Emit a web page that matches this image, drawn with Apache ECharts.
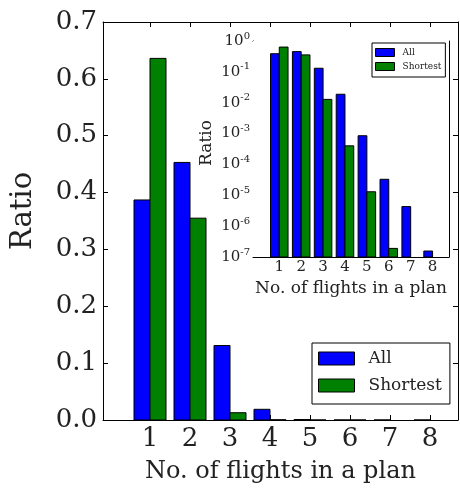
<!DOCTYPE html>
<html><head><meta charset="utf-8">
<script src="https://cdn.jsdelivr.net/npm/echarts@6/dist/echarts.min.js"></script>
<style>html,body{margin:0;padding:0;background:#fff}#c{width:460px;height:489px}</style>
</head><body><div id="c"></div>
<script>
var categories = [1, 2, 3, 4, 5, 6, 7, 8];
var allRatio = [0.387, 0.453, 0.131, 0.0188, 8.5e-4, 3.3e-5, 4.3e-6, 1.56e-7];
var shortestRatio = [0.636, 0.355, 0.0128, 4.0e-4, 1.3e-5, 1.9e-7, 0, 0];
var mainYTicks = [0, 0.1, 0.2, 0.3, 0.4, 0.5, 0.6, 0.7];
var insetYTicks = [1e-7, 1e-6, 1e-5, 1e-4, 1e-3, 1e-2, 1e-1, 1];
var insetMinorTicks = [];
for (var e = -7; e < 0; e++) { for (var m = 2; m <= 9; m++) insetMinorTicks.push(m * Math.pow(10, e)); }

var FONT = 'DejaVu Serif';
var TXT = '#222';
var BLUE = '#0000ff', GREEN = '#008000';
var BAR_W = 0.4;

function pairs(vals) { return categories.map(function (c, i) { return [c, vals[i]]; }); }

function barRenderer(side, base, color) {
  return function (params, api) {
    var x = api.value(0), v = api.value(1);
    if (!(v > 0)) return null;
    var x0 = side < 0 ? x - BAR_W : x;
    var x1 = side < 0 ? x : x + BAR_W;
    var pTop = api.coord([x0, v]);
    var pBot = api.coord([x1, base]);
    return {
      type: 'rect',
      shape: { x: pTop[0], y: pTop[1], width: pBot[0] - pTop[0], height: pBot[1] - pTop[1] },
      style: { fill: color, stroke: '#000', lineWidth: 1 }
    };
  };
}

var line = { show: true, onZero: false, lineStyle: { color: '#000', width: 1 } };
function xAx(grid, pos, min, max, labels, lfs, tickLen, name, nfs, ngap) {
  return {
    type: 'value', gridIndex: grid, position: pos, min: min, max: max,
    axisLine: line, splitLine: { show: false },
    axisTick: { show: true, inside: true, length: tickLen, customValues: categories, lineStyle: { color: '#000' } },
    axisLabel: { show: labels, customValues: categories, fontFamily: FONT, fontSize: lfs, color: TXT, margin: grid === 0 ? 6 : 3 },
    name: name || '', nameLocation: 'middle', nameGap: ngap || 0,
    nameTextStyle: { fontFamily: FONT, fontSize: nfs || 12, color: TXT }
  };
}

var option = {
  animation: false,
  backgroundColor: '#fff',
  grid: [
    { left: 103, top: 22, right: 2, bottom: 69, containLabel: false, outerBoundsMode: 'none' },
    { left: 253, top: 41, right: 11, bottom: 232, containLabel: false, outerBoundsMode: 'none',
      show: true, backgroundColor: '#fff', borderWidth: 0, z: 3 }
  ],
  xAxis: [
    xAx(0, 'bottom', -0.175, 8.7, true, 26, 5, 'No. of flights in a plan', 24, 40),
    xAx(0, 'top', -0.175, 8.7, false, 26, 5),
    xAx(1, 'bottom', -0.2, 8.75, true, 15, 3, 'No. of flights in a plan', 17, 23),
    xAx(1, 'top', -0.2, 8.75, false, 15, 3)
  ],
  yAxis: [
    { type: 'value', gridIndex: 0, position: 'left', min: 0, max: 0.7, interval: 0.1,
      axisLine: line, splitLine: { show: false },
      axisTick: { inside: true, length: 5, lineStyle: { color: '#000' } },
      axisLabel: { fontFamily: FONT, fontSize: 26, color: TXT, margin: 6, formatter: function (v) { return v.toFixed(1); } },
      name: 'Ratio', nameLocation: 'middle', nameGap: 65,
      nameTextStyle: { fontFamily: FONT, fontSize: 29, color: TXT, padding: [0, 0, 0, 20] } },
    { type: 'value', gridIndex: 0, position: 'right', min: 0, max: 0.7, interval: 0.1,
      axisLine: line, splitLine: { show: false },
      axisTick: { inside: true, length: 5, lineStyle: { color: '#000' } }, axisLabel: { show: false } },
    { type: 'log', logBase: 10, gridIndex: 1, position: 'left', min: 1e-7, max: 1,
      axisLine: line, splitLine: { show: false },
      axisTick: { inside: true, length: 4, customValues: insetYTicks, lineStyle: { color: '#000' } },
      axisLabel: { customValues: insetYTicks, margin: 3,
        formatter: function (v) { return '{b|10}{s|' + Math.round(Math.log10(v)) + '}'; },
        rich: { b: { fontFamily: FONT, fontSize: 15, color: TXT, lineHeight: 20 },
                s: { fontFamily: FONT, fontSize: 10, color: TXT, lineHeight: 10, verticalAlign: 'top' } } },
      name: 'Ratio', nameLocation: 'middle', nameGap: 38,
      nameTextStyle: { fontFamily: FONT, fontSize: 17, color: TXT, padding: [0, 0, 0, 12] } },
    { type: 'log', logBase: 10, gridIndex: 1, position: 'right', min: 1e-7, max: 1,
      axisLine: line, splitLine: { show: false },
      axisTick: { inside: true, length: 4, customValues: insetYTicks, lineStyle: { color: '#000' } }, axisLabel: { show: false } },
    { type: 'log', logBase: 10, gridIndex: 1, position: 'left', min: 1e-7, max: 1,
      axisLine: { show: false }, splitLine: { show: false },
      axisTick: { inside: true, length: 2, customValues: insetMinorTicks, lineStyle: { color: '#000' } }, axisLabel: { show: false } },
    { type: 'log', logBase: 10, gridIndex: 1, position: 'right', min: 1e-7, max: 1,
      axisLine: { show: false }, splitLine: { show: false },
      axisTick: { inside: true, length: 2, customValues: insetMinorTicks, lineStyle: { color: '#000' } }, axisLabel: { show: false } }
  ],
  legend: [
    { orient: 'vertical', left: 312, top: 343, padding: [7, 8, 10, 6], itemGap: 10,
      itemWidth: 36, itemHeight: 13, borderColor: '#000', borderWidth: 1, backgroundColor: '#fff', z: 6,
      textStyle: { fontFamily: FONT, fontSize: 17, color: TXT, padding: [0, 0, 0, 9] },
      data: [{ name: 'All', icon: 'rect', itemStyle: { color: BLUE, borderColor: '#000', borderWidth: 1 } },
             { name: 'Shortest', icon: 'rect', itemStyle: { color: GREEN, borderColor: '#000', borderWidth: 1 } }] },
    { orient: 'vertical', left: 372, top: 43, padding: [5, 4, 6, 3], itemGap: 5,
      itemWidth: 19, itemHeight: 8, borderColor: '#000', borderWidth: 1, backgroundColor: '#fff', z: 6,
      textStyle: { fontFamily: FONT, fontSize: 9, color: TXT, padding: [0, 0, 0, 3] },
      data: [{ name: 'All', icon: 'rect', itemStyle: { color: BLUE, borderColor: '#000', borderWidth: 1 } },
             { name: 'Shortest', icon: 'rect', itemStyle: { color: GREEN, borderColor: '#000', borderWidth: 1 } }] }
  ],
  series: [
    { type: 'custom', name: 'All', xAxisIndex: 0, yAxisIndex: 0, data: pairs(allRatio), clip: true,
      itemStyle: { color: BLUE }, renderItem: barRenderer(-1, 0, BLUE) },
    { type: 'custom', name: 'Shortest', xAxisIndex: 0, yAxisIndex: 0, data: pairs(shortestRatio), clip: true,
      itemStyle: { color: GREEN }, renderItem: barRenderer(1, 0, GREEN) },
    { type: 'custom', name: 'All', xAxisIndex: 2, yAxisIndex: 2, data: pairs(allRatio), clip: true, z: 4,
      itemStyle: { color: BLUE }, renderItem: barRenderer(-1, 1e-7, BLUE) },
    { type: 'custom', name: 'Shortest', xAxisIndex: 2, yAxisIndex: 2, data: pairs(shortestRatio), clip: true, z: 4,
      itemStyle: { color: GREEN }, renderItem: barRenderer(1, 1e-7, GREEN) }
  ]
};
var chart = echarts.init(document.getElementById('c'), null, { renderer: 'canvas' });
chart.setOption(option);
</script></body></html>
